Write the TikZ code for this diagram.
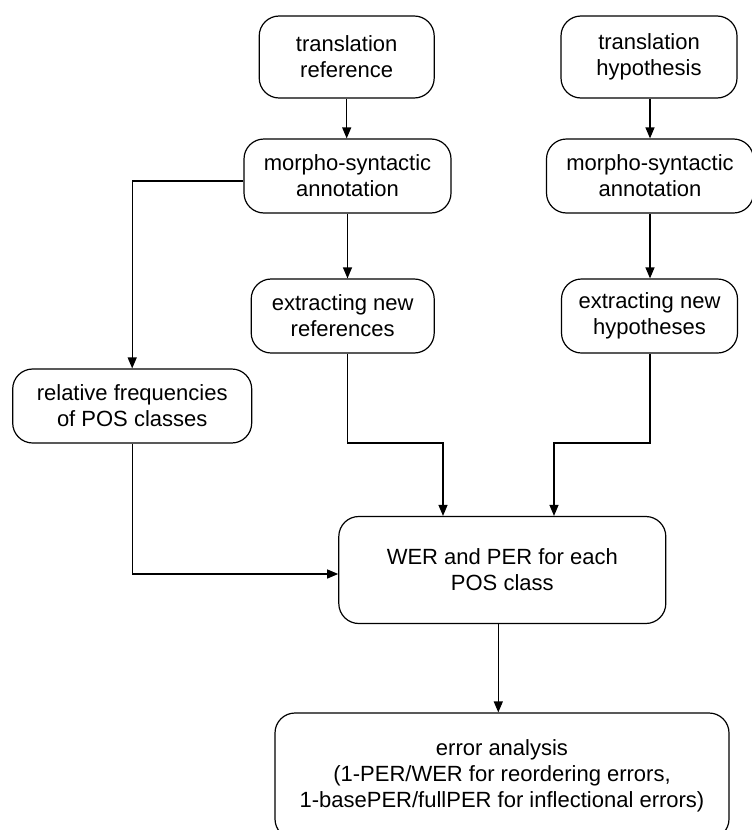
\documentclass[tikz,border=0pt]{standalone}
\usepackage{fontspec}
\setmainfont{Liberation Sans}
\usetikzlibrary{arrows.meta}
\begin{document}
\begin{tikzpicture}[x=1pt,y=-1pt,
  box/.style={draw, line width=1.2pt, rounded corners=20pt, align=center, inner sep=0pt,
    font=\fontsize{22}{26}\selectfont},
  arr/.style={line width=1.2pt, -{Triangle[length=11pt,width=9pt]}},
  ln/.style={line width=1.2pt}]
\useasboundingbox (0,0) rectangle (752,830);
\node[box, minimum width=175pt, minimum height=82pt] (tref) at (346.7,57) {translation\\reference};
\node[box, minimum width=176pt, minimum height=82pt] (thyp) at (649,57) {translation\\hypothesis};
\node[box, minimum width=207pt, minimum height=74pt] (mref) at (347.5,176) {morpho-syntactic\\annotation};
\node[box, minimum width=207pt, minimum height=74pt] (mhyp) at (650,176) {morpho-syntactic\\annotation};
\node[box, minimum width=183pt, minimum height=74pt] (eref) at (342.7,316) {extracting new\\references};
\node[box, minimum width=176pt, minimum height=74pt] (ehyp) at (649.5,316) {extracting new\\hypotheses};
\node[box, minimum width=239pt, minimum height=74pt] (rel) at (132.2,406) {relative frequencies\\of POS classes};
\node[box, minimum width=327pt, minimum height=107pt] (wer) at (502.3,570) {WER and PER for each\\POS class};
\node[box, minimum width=454pt, minimum height=126pt] (err) at (502,776) {error analysis\\(1-PER/WER for reordering errors,\\1-basePER/fullPER for inflectional errors)};
\coordinate (j1) at (443,443);
\coordinate (j2) at (554,443);
\draw[arr] (tref) -- (tref |- mref.north);
\draw[arr] (thyp.south -| mhyp.north) -- (mhyp.north);
\draw[arr] ([yshift=-5pt]mref.west) -| (rel.north);
\draw[arr] (mref.south) -- (mref.south |- eref.north);
\draw[arr] (mhyp.south) -- (mhyp.south |- ehyp.north);
\draw[arr] (eref.south -| mref.south) |- (j1) -- (j1 |- wer.north);
\draw[arr] (ehyp.south -| mhyp.south) |- (j2) -- (j2 |- wer.north);
\draw[arr] (rel.south) |- ([yshift=-4pt]wer.west);
\draw[arr] ([xshift=-4pt]wer.south) -- ([xshift=-4pt]wer.south |- err.north);
\end{tikzpicture}
\end{document}
